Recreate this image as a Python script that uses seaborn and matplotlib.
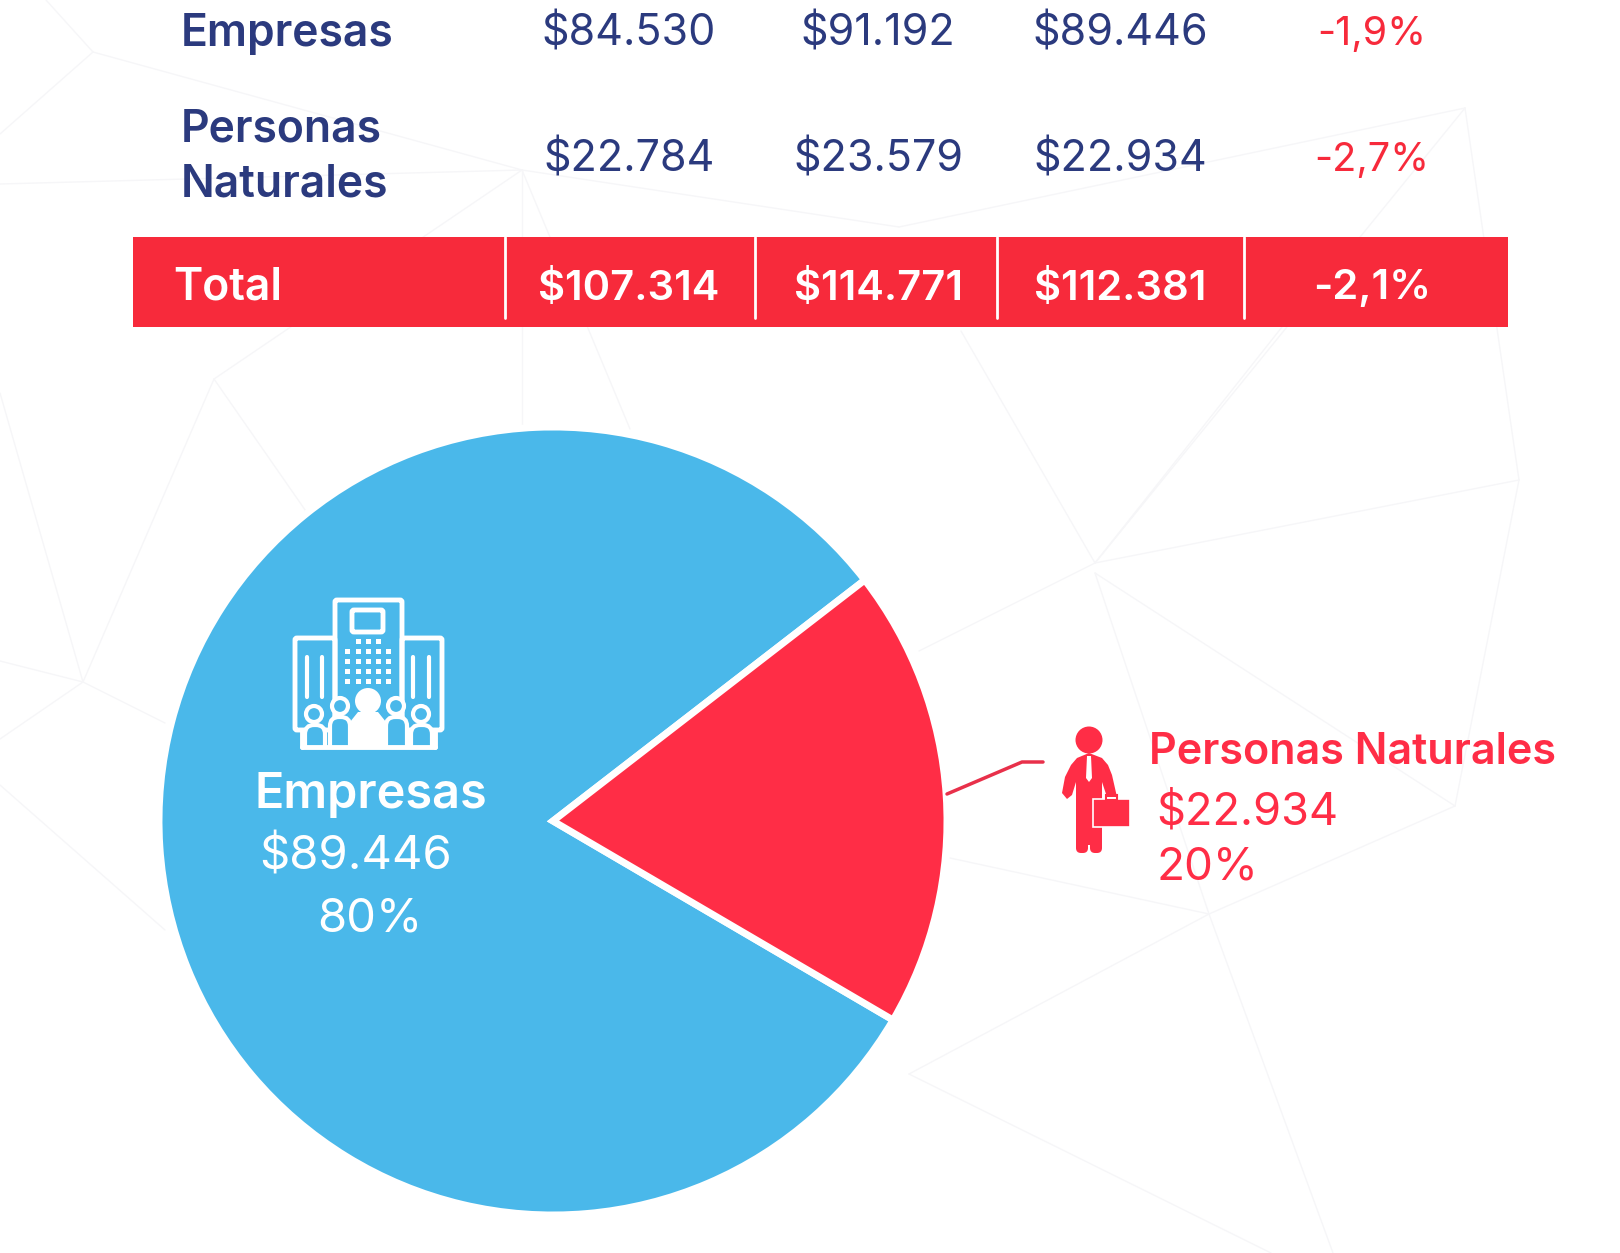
import matplotlib
matplotlib.use("Agg")
import matplotlib.pyplot as plt
import seaborn as sns
from matplotlib.patches import Rectangle, Circle, FancyBboxPatch, Polygon

# table data
row_names = ["Empresas", "Personas\nNaturales"]
empresas_vals = ["$84.530", "$91.192", "$89.446", "-1,9%"]
personas_vals = ["$22.784", "$23.579", "$22.934", "-2,7%"]
total_vals = ["$107.314", "$114.771", "$112.381", "-2,1%"]

# pie data (shares as drawn in the picture, labels say 80/20)
pie_shares = [81.1, 18.9]

NAVY = "#2b3a7e"
RED = "#f72a3b"
PIE_COLORS = ["#4ab8ea", "#ff2d46"]

sns.set_theme(style="white")
plt.rcParams["font.family"] = ["Inter", "DejaVu Sans"]

W, H = 1620, 1253
fig = plt.figure(figsize=(W / 100, H / 100), dpi=100, facecolor="white")
bg = fig.add_axes([0, 0, 1, 1])
bg.set_xlim(0, W)
bg.set_ylim(H, 0)
bg.axis("off")

# faint background mesh
mesh = [((46, 0), (93, 52)), ((93, 52), (0, 134)), ((93, 52), (522, 170)), ((0, 184), (522, 170)),
        ((522, 170), (214, 379)), ((522, 170), (522, 429)), ((522, 170), (630, 429)),
        ((522, 170), (899, 227)), ((1465, 108), (899, 227)), ((1465, 108), (1519, 480)),
        ((1465, 108), (1095, 563)), ((961, 331), (1095, 563)), ((1519, 480), (1095, 563)),
        ((1095, 563), (919, 651)), ((1095, 573), (1455, 806)), ((1519, 480), (1455, 806)),
        ((1455, 806), (1209, 914)), ((1209, 914), (950, 858)), ((1095, 573), (1209, 914)),
        ((1209, 914), (909, 1074)), ((1209, 914), (1333, 1253)), ((909, 1074), (1271, 1253)),
        ((1282, 327), (1095, 563)), ((214, 379), (83, 682)), ((214, 379), (310, 517)),
        ((0, 393), (83, 682)), ((83, 682), (0, 661)), ((83, 682), (0, 739)), ((83, 682), (165, 723)),
        ((0, 785), (165, 930))]
for p0, p1 in mesh:
    bg.plot([p0[0], p1[0]], [p0[1], p1[1]], color="#f6f6f8", lw=1, zorder=1)

# table
col_x = [629, 878, 1120, 1372]
bg.text(181, 34, row_names[0], color=NAVY, fontsize=32, fontweight="semibold", va="center", zorder=3)
bg.text(181, 157, row_names[1], color=NAVY, fontsize=32, fontweight="semibold", va="center",
        linespacing=1.42, zorder=3)
for i in range(4):
    c = RED if i == 3 else NAVY
    fs = 28.5 if i == 3 else 31
    bg.text(col_x[i], 34, empresas_vals[i], color=c, fontsize=fs, ha="center", va="center", zorder=3)
    bg.text(col_x[i], 160, personas_vals[i], color=c, fontsize=fs, ha="center", va="center", zorder=3)
    bg.text(col_x[i], 288, total_vals[i], color="white", fontsize=30, fontweight="semibold",
            ha="center", va="center", zorder=4)
bg.add_patch(Rectangle((133, 237), 1375, 90, color=RED, lw=0, zorder=2))
for x in [505, 755, 997, 1244]:
    bg.plot([x, x], [237, 318], color="white", lw=2, zorder=3)
bg.text(173, 288, "Total", color="white", fontsize=32, fontweight="semibold", va="center", zorder=4)

# pie
cx, cy, R = 553, 821, 394
ax = fig.add_axes([(cx - R) / W, 1 - (cy + R) / H, 2 * R / W, 2 * R / H], zorder=2)
ax.patch.set_alpha(0)
ax.pie(pie_shares, colors=sns.color_palette(PIE_COLORS), startangle=37.7, radius=1,
       wedgeprops={"edgecolor": "white", "linewidth": 5})
ax.set_xlim(-1, 1)
ax.set_ylim(-1, 1)
ax.axis("off")

# overlay for icons and labels
top = fig.add_axes([0, 0, 1, 1], zorder=3)
top.set_xlim(0, W)
top.set_ylim(H, 0)
top.axis("off")
top.patch.set_alpha(0)

# building icon
def outline(x, y, w, h, lw=3.5):
    top.add_patch(FancyBboxPatch((x, y), w, h, boxstyle="round,pad=0,rounding_size=2",
                                 fc="none", ec="white", lw=lw))

outline(335, 600, 67, 125)
outline(295, 638, 40, 92)
outline(402, 638, 40, 92)
outline(352, 610, 31, 22)
top.plot([302, 435], [747, 747], color="white", lw=3.5, zorder=6)
top.plot([302, 302], [730, 747], color="white", lw=3.5)
top.plot([435, 435], [730, 747], color="white", lw=3.5)
for x in [347, 358, 368, 378, 388]:
    for y in [651, 661, 671, 681]:
        top.add_patch(Rectangle((x - 2.5, y - 2.5), 5, 5, color="white", lw=0))
for x in [358, 368, 378]:
    top.add_patch(Rectangle((x - 2.5, 638.5), 5, 5, color="white", lw=0))
for x in [307, 322, 413, 429]:
    top.plot([x, x], [657, 697], color="white", lw=3)
# people
top.add_patch(Circle((368, 701), 13, color="white", lw=0, zorder=4))
top.add_patch(Polygon([(350, 747), (350, 722), (358, 712), (378, 712), (386, 722), (386, 747)],
                      color="white", lw=0, zorder=4))
clip = Rectangle((0, 0), W, 747, transform=top.transData)
for px, py, x0, x1, y0 in [(314, 714, 305, 325, 725), (340, 706, 330, 350, 717),
                           (396, 706, 386, 407, 717), (421, 714, 411, 432, 725)]:
    top.add_patch(Circle((px, py), 8, fc="#4ab8ea", ec="white", lw=3, zorder=5))
    arch = FancyBboxPatch((x0, y0), x1 - x0, 770 - y0, fc="#4ab8ea", ec="white", lw=3,
                          boxstyle="round,pad=0,rounding_size=9", zorder=5)
    top.add_patch(arch)
    arch.set_clip_path(clip)

top.text(371, 795, "Empresas", color="white", fontsize=35, fontweight="semibold", ha="center", va="center")
top.text(356, 858, "$89.446", color="white", fontsize=34, fontweight="normal", ha="center", va="center")
top.text(370, 920, "80%", color="white", fontsize=34, fontweight="normal", ha="center", va="center")

# leader line
top.plot([947, 1022, 1043], [794, 762, 762], color="#e8304a", lw=2.5)

# person icon
C = PIE_COLORS[1]
top.add_patch(Circle((1089, 740), 13.5, color=C, lw=0))
top.add_patch(Polygon([(1062, 793), (1065, 777), (1071, 765), (1077, 758), (1089, 753), (1102, 758),
                       (1108, 765), (1112, 775), (1117, 797), (1107, 797), (1102, 782), (1102, 845),
                       (1076, 845), (1076, 782), (1072, 795), (1067, 799)], color=C, lw=0))
top.add_patch(FancyBboxPatch((1076, 800), 12, 53, boxstyle="round,pad=0,rounding_size=5", color=C, lw=0))
top.add_patch(FancyBboxPatch((1090, 800), 12, 53, boxstyle="round,pad=0,rounding_size=5", color=C, lw=0))
top.add_patch(Polygon([(1087, 756), (1091, 756), (1092, 778), (1089, 782), (1086, 778)], color="white", lw=0))
top.add_patch(Rectangle((1093, 799), 37, 28, fc=C, ec="white", lw=1.2, zorder=5))
top.add_patch(Rectangle((1106, 795), 11, 5, fc="none", ec=C, lw=1.5, zorder=5))

top.text(1149, 752, "Personas Naturales", color=C, fontsize=31, fontweight="semibold", va="center")
top.text(1156, 812, "$22.934", color=C, fontsize=32.5, va="center")
top.text(1156, 868, "20%", color=C, fontsize=33, va="center")

fig.savefig("out.png", dpi=100)
